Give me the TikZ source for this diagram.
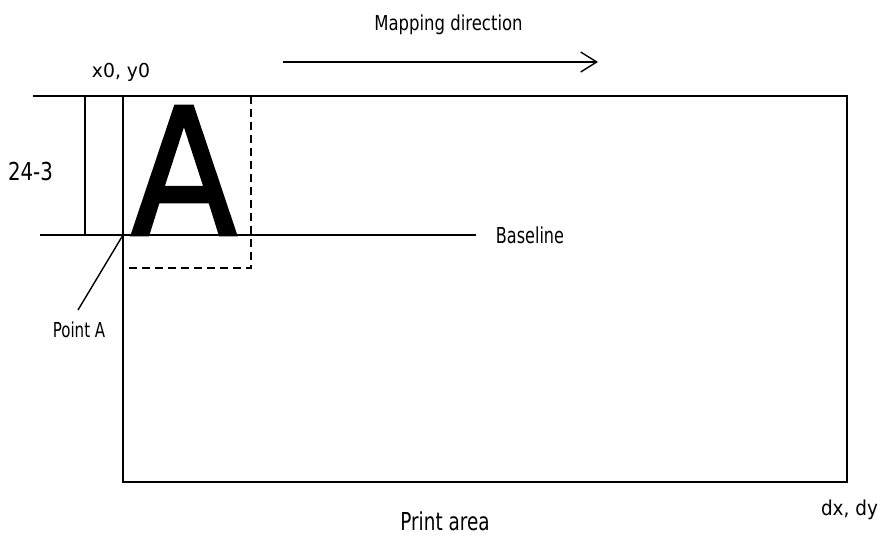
\documentclass[tikz,border=0pt]{standalone}
\usepackage{fontspec}
\setmainfont{DejaVu Sans}
\newfontfamily\bigAfont{DejaVu Sans}[FakeBold=1.6]
\usetikzlibrary{arrows.meta}
\newcommand{\hsq}[3]{{\fontsize{#2}{#2}\selectfont\scalebox{#1}[1]{#3}}}
\begin{document}
\begin{tikzpicture}[x=1pt,y=-1pt,
  ln/.style={line width=1.4pt,black},
  dsh/.style={line width=1.3pt,dash pattern=on 8pt off 5pt},
  lbl/.style={inner sep=0pt,anchor=base}]
\useasboundingbox (0,0) rectangle (886,539);
% frame corners
\coordinate (tl) at (123,96);
\coordinate (tr) at (847,96);
\coordinate (br) at (847,482);
\coordinate (bl) at (123,482);
\coordinate (topstart) at (33,96);
\coordinate (vtop) at (85,96);
\coordinate (vbot) at (85,235);
\coordinate (bstart) at (40,235);
\coordinate (bend) at (476,235);
\coordinate (pa) at (123,235);
\coordinate (paend) at (78,310);
\coordinate (dtop) at (251,96);
\coordinate (dcorner) at (251,268);
\coordinate (dleft) at (123,268);
\coordinate (arrs) at (283,62);
\coordinate (arre) at (598,62);
% lines
\draw[ln] (topstart) -- (tr) -- (br) -- (bl) -- (tl);
\draw[ln] (vtop) -- (vbot);
\draw[ln] (bstart) -- (bend);
\draw[ln] (pa) -- (paend);
\draw[dsh] (dtop) -- (dcorner) -- (dleft);
\draw[ln,-{Straight Barb[length=16pt,width=20pt,line width=1.4pt]}] (arrs) -- (arre);
% big letter
\node[inner sep=0pt,anchor=base west] (bigA) at (130.5,235) {\bigAfont\hsq{0.88}{177}{A}};
% labels
\node[lbl] (map) at (448.5,30) {\hsq{0.80}{20.6}{Mapping direction}};
\node[lbl] (xy) at (121,77) {\hsq{0.98}{19.2}{x0, y0}};
\node[lbl] (dim) at (30.5,180) {\hsq{0.80}{24.7}{24-3}};
\node[lbl] (base) at (530,243) {\hsq{0.73}{22}{Baseline}};
\node[lbl] (pointA) at (79,337) {\hsq{0.73}{20.6}{Point A}};
\node[lbl] (print) at (445,530) {\hsq{0.745}{24.7}{Print area}};
\node[lbl] (dxdy) at (849.5,515) {\hsq{0.90}{20.5}{dx, dy}};
\end{tikzpicture}
\end{document}
